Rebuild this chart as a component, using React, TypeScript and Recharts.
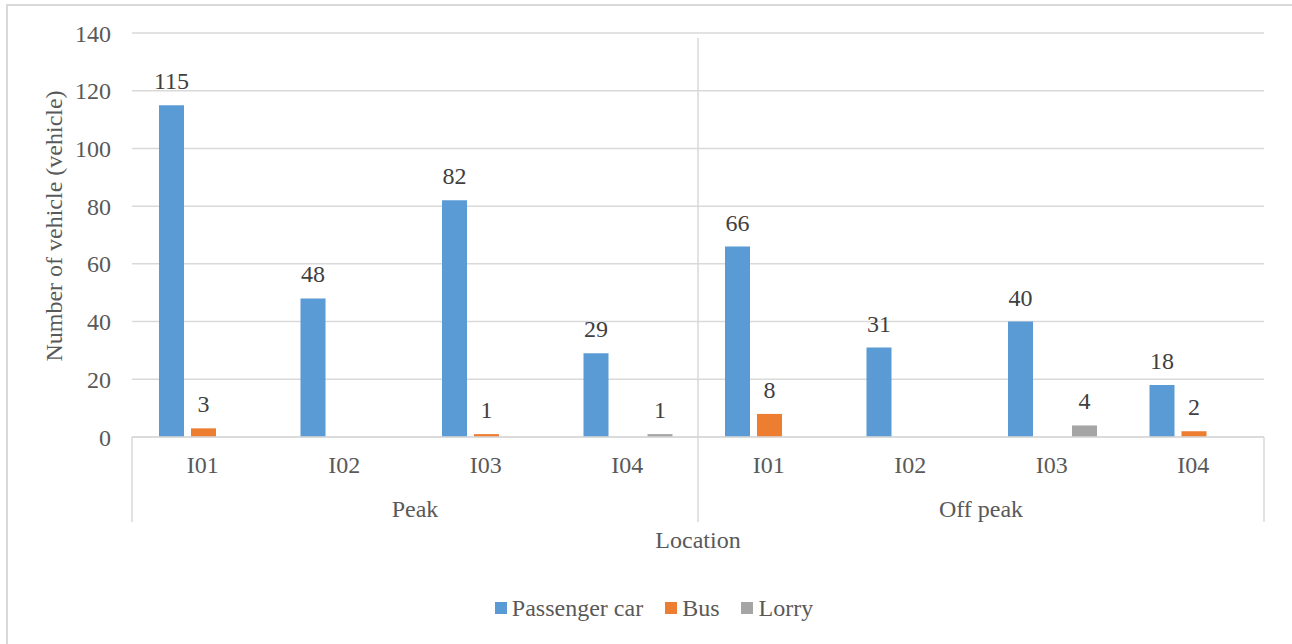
import { BarChart, Bar, XAxis, YAxis, CartesianGrid, Legend, LabelList, Label } from "recharts";

const locations = ["I01", "I02", "I03", "I04", "I01", "I02", "I03", "I04"];
const periods = ["Peak", "Peak", "Peak", "Peak", "Off peak", "Off peak", "Off peak", "Off peak"];
const passengerCar = [115, 48, 82, 29, 66, 31, 40, 18];
const bus = [3, null, 1, null, 8, null, null, 2];
const lorry = [null, null, null, 1, null, null, 4, null];
const yTicks = [0, 20, 40, 60, 80, 100, 120, 140];

const series = [
  { key: "car", name: "Passenger car", color: "#5B9BD5" },
  { key: "bus", name: "Bus", color: "#ED7D31" },
  { key: "lorry", name: "Lorry", color: "#A5A5A5" },
];

const data = locations.map((loc, i) => ({
  key: `${periods[i]}-${loc}`,
  location: loc,
  period: periods[i],
  car: passengerCar[i],
  bus: bus[i],
  lorry: lorry[i],
}));

const FONT = "'Liberation Serif', 'Times New Roman', serif";
const FS = 24;
const AXIS_TEXT = "#595959";
const GRID = "#d9d9d9";

const W = 1292;
const H = 644;
const MARGIN = { top: 33, right: 28, left: 0, bottom: 23 };
const PLOT_LEFT = 132;
const PLOT_W = W - MARGIN.right - PLOT_LEFT;
const AXIS_Y = 437;
const SEP_BOTTOM = 522;

const GroupTick = (props: any) => {
  const { x, y, payload, index } = props;
  const half = PLOT_W / 4;
  return (
    <g>
      <text x={x} y={y} dy="0.71em" textAnchor="middle" fill={AXIS_TEXT} fontSize={FS} fontFamily={FONT}>
        {payload.value}
      </text>
      {index === 0 && (
        <line x1={x - half} x2={x - half} y1={AXIS_Y} y2={SEP_BOTTOM} stroke={GRID} strokeWidth={1.5} />
      )}
      {index === 1 && (
        <>
          <line x1={x - half} x2={x - half} y1={38} y2={SEP_BOTTOM} stroke={GRID} strokeWidth={1.5} />
          <line x1={x + half} x2={x + half} y1={AXIS_Y} y2={SEP_BOTTOM} stroke={GRID} strokeWidth={1.5} />
        </>
      )}
    </g>
  );
};

const renderLegend = () => (
  <div
    style={{
      display: "flex",
      justifyContent: "center",
      alignItems: "center",
      height: 26,
      paddingLeft: 44,
      fontFamily: FONT,
      fontSize: FS,
      color: AXIS_TEXT,
      gap: 22,
    }}
  >
    {series.map((s) => (
      <span key={s.key} style={{ display: "flex", alignItems: "center" }}>
        <span style={{ width: 12, height: 12, background: s.color, marginRight: 5, display: "inline-block" }} />
        {s.name}
      </span>
    ))}
  </div>
);

const YLabel = () => (
  <text
    x={54}
    y={226}
    transform="rotate(-90 54 226)"
    textAnchor="middle"
    dominantBaseline="central"
    fill={AXIS_TEXT}
    fontSize={FS}
    fontFamily={FONT}
  >
    Number of vehicle (vehicle)
  </text>
);

export default function App() {
  return (
    <div
      style={{
        position: "absolute",
        left: 0,
        top: 0,
        width: W,
        height: H,
        background: "#fff",
        overflow: "hidden",
      }}
    >
      <div
        style={{
          position: "absolute",
          left: 6,
          top: 4,
          width: W,
          height: H,
          borderLeft: `2px solid ${GRID}`,
          borderTop: `2px solid ${GRID}`,
        }}
      />
      <BarChart width={W} height={H} data={data} margin={MARGIN} barCategoryGap={27} barGap={7}>
        <CartesianGrid vertical={false} stroke={GRID} strokeWidth={1.5} />
        <XAxis
          dataKey="key"
          tickFormatter={(v: string) => v.split("-")[1]}
          height={43}
          tickLine={false}
          tickSize={0}
          tickMargin={19}
          axisLine={{ stroke: GRID, strokeWidth: 1.5 }}
          tick={{ fill: AXIS_TEXT, fontSize: FS, fontFamily: FONT }}
          interval={0}
        />
        <XAxis
          xAxisId="group"
          dataKey="period"
          allowDuplicatedCategory={false}
          height={115}
          tickLine={false}
          tickSize={0}
          tickMargin={20}
          axisLine={false}
          tick={<GroupTick />}
          interval={0}
        >
          <Label
            value="Location"
            position="insideTop"
            offset={51}
            fill={AXIS_TEXT}
            fontSize={FS}
            fontFamily={FONT}
          />
        </XAxis>
        <YAxis
          width={132}
          domain={[0, 140]}
          ticks={yTicks}
          tickLine={false}
          tickSize={0}
          tickMargin={21}
          axisLine={false}
          tick={{ fill: AXIS_TEXT, fontSize: FS, fontFamily: FONT }}
        >
          <Label content={<YLabel />} />
        </YAxis>
        <Legend verticalAlign="bottom" content={renderLegend} />
        {series.map((s) => (
          <Bar key={s.key} dataKey={s.key} name={s.name} fill={s.color} isAnimationActive={false}>
            <LabelList dataKey={s.key} position="top" offset={16} fill="#404040" fontSize={FS} fontFamily={FONT} />
          </Bar>
        ))}
      </BarChart>
    </div>
  );
}
